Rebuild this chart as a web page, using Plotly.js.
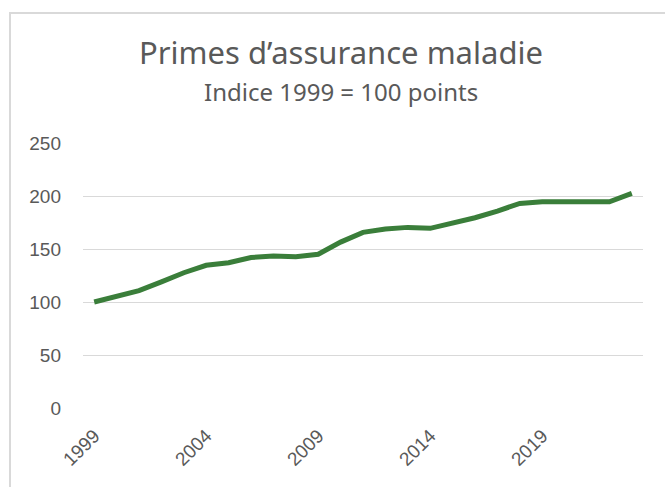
<!DOCTYPE html>
<html>
<head>
<meta charset="utf-8">
<script src="https://cdn.plot.ly/plotly-3.0.1.min.js"></script>
<style>
  html, body { margin: 0; padding: 0; background: #ffffff; }
  #wrap { position: relative; width: 665px; height: 487px; overflow: hidden; }
  #frame { position: absolute; left: 9px; top: 12px; width: 700px; height: 520px;
           border-left: 2px solid #d9d9d9; border-top: 2px solid #d9d9d9; }
  #chart { position: absolute; left: 0; top: 0; width: 665px; height: 487px; }
</style>
</head>
<body>
<div id="wrap">
  <div id="frame"></div>
  <div id="chart"></div>
</div>
<script>
const years = ['1999','2000','2001','2002','2003','2004','2005','2006','2007','2008','2009','2010',
               '2011','2012','2013','2014','2015','2016','2017','2018','2019','2020','2021','2022','2023'];
const indexValues = [100, 105, 110.7, 119, 127.6, 134.6, 137, 142, 143.4, 142.7, 145, 156.5,
                     165.7, 168.9, 170.4, 169.5, 174, 179.5, 185.8, 193, 194.6, 194.6, 195.3, 194.6, 202.5];
const xTickLabels = ['1999','2004','2009','2014','2019'];
const yTickValues = [0, 50, 100, 150, 200, 250];
const titleText = 'Primes d’assurance maladie';
const subtitleText = 'Indice 1999 = 100 points';

const trace = {
  x: years,
  y: indexValues,
  type: 'scatter',
  mode: 'lines',
  line: { color: '#3a7e3a', width: 5 },
  hoverinfo: 'x+y'
};

const layout = {
  width: 665,
  height: 487,
  paper_bgcolor: 'rgba(0,0,0,0)',
  plot_bgcolor: 'rgba(0,0,0,0)',
  margin: { l: 83, r: 22, t: 143, b: 79 },
  showlegend: false,
  title: {
    text: titleText,
    font: { family: 'Noto Sans, sans-serif', size: 31, color: '#595959' },
    x: 0.5128, xanchor: 'center', xref: 'container',
    y: 1, yanchor: 'top', yref: 'container',
    pad: { t: 42 }
  },
  annotations: [{
    text: subtitleText,
    font: { family: 'Noto Sans, sans-serif', size: 24, color: '#595959' },
    xref: 'paper', yref: 'paper',
    x: 0.4607, y: 1, xanchor: 'center', yanchor: 'middle',
    yshift: 52, showarrow: false
  }],
  xaxis: {
    type: 'category',
    range: [-0.5, years.length - 0.5],
    tickmode: 'array',
    tickvals: xTickLabels,
    ticktext: xTickLabels,
    tickangle: -45,
    showgrid: false,
    zeroline: false,
    showline: false,
    ticks: '',
    ticklabelstandoff: 12,
    tickfont: { family: 'Liberation Sans, Arial, sans-serif', size: 19, color: '#595959' },
    fixedrange: true
  },
  yaxis: {
    range: [0, 250],
    tickmode: 'array',
    tickvals: yTickValues,
    showgrid: true,
    gridcolor: '#d9d9d9',
    gridwidth: 1,
    zeroline: false,
    showline: false,
    ticks: '',
    ticklabelstandoff: 21,
    tickfont: { family: 'Liberation Sans, Arial, sans-serif', size: 19, color: '#595959' },
    fixedrange: true
  }
};

Plotly.newPlot('chart', [trace], layout, { displayModeBar: false, staticPlot: true });
</script>
</body>
</html>
